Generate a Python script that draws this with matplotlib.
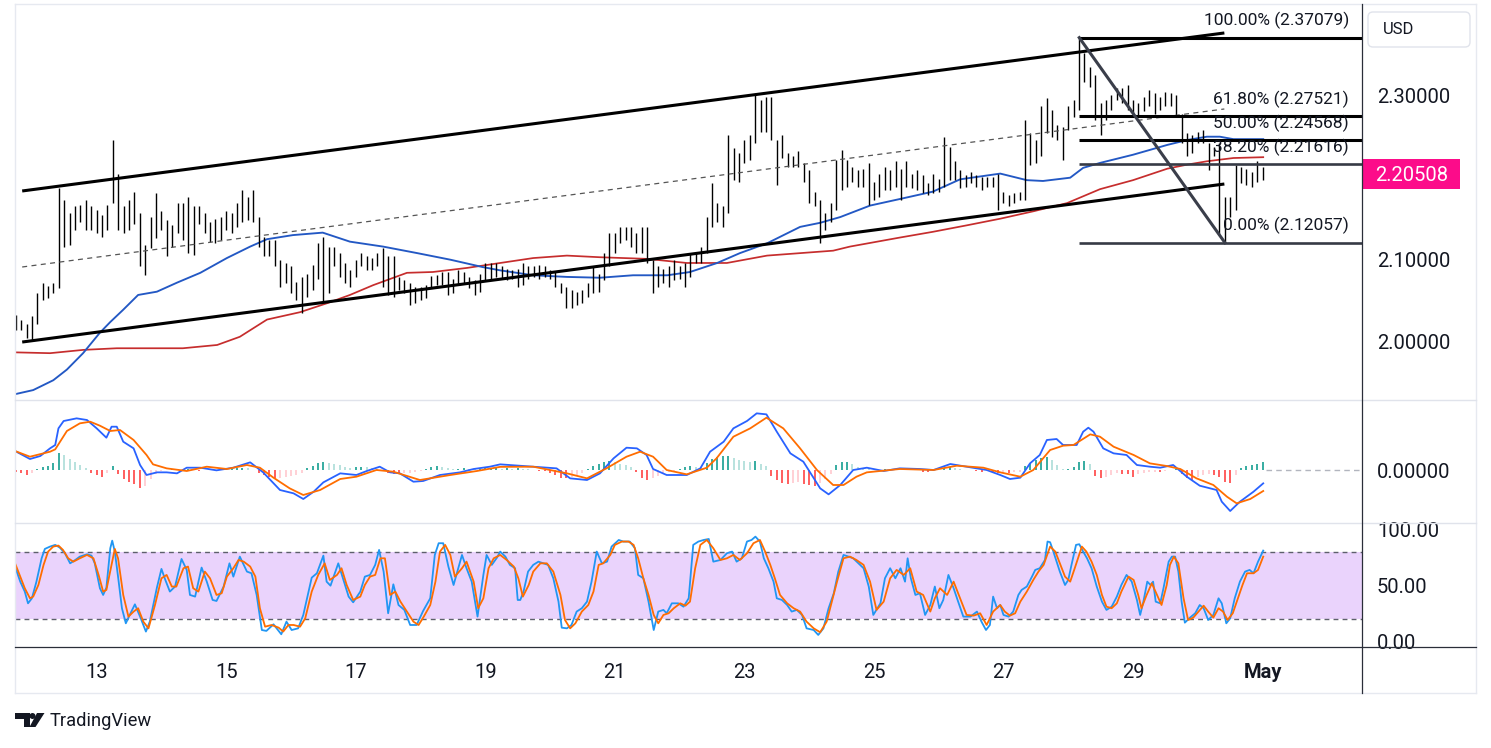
import numpy as np
import matplotlib
matplotlib.use("Agg")
import matplotlib.pyplot as plt
from matplotlib.patches import Rectangle, FancyBboxPatch, Polygon, Circle
from matplotlib.lines import Line2D
from matplotlib.transforms import blended_transform_factory as blend

# ---------------- data (time in days of April; 31 = 1 May) ----------------
bar_start = 11.75          # first 2-hour bar
bar_step = 1.0 / 12.0      # 2 hours

bar_high = [
    2.033, 2.026, 2.022, 2.031, 2.059, 2.071, 2.068, 2.072, 2.187, 2.173,
    2.157, 2.165, 2.167, 2.173, 2.165, 2.161, 2.154, 2.167, 2.246, 2.205,
    2.165, 2.173, 2.183, 2.157, 2.118, 2.152, 2.181, 2.159, 2.148, 2.142,
    2.169, 2.169, 2.177, 2.165, 2.165, 2.157, 2.146, 2.150, 2.152, 2.159,
    2.157, 2.169, 2.185, 2.177, 2.185, 2.152, 2.128, 2.124, 2.124, 2.100,
    2.096, 2.092, 2.073, 2.079, 2.083, 2.094, 2.120, 2.128, 2.116, 2.116,
    2.108, 2.096, 2.087, 2.100, 2.108, 2.104, 2.102, 2.108, 2.114, 2.104,
    2.104, 2.079, 2.075, 2.071, 2.067, 2.067, 2.069, 2.080, 2.081, 2.085,
    2.085, 2.077, 2.087, 2.085, 2.079, 2.075, 2.083, 2.096, 2.096, 2.096,
    2.092, 2.089, 2.088, 2.089, 2.096, 2.092, 2.092, 2.094, 2.092, 2.087,
    2.085, 2.071, 2.067, 2.063, 2.061, 2.063, 2.071, 2.092, 2.083, 2.108,
    2.132, 2.132, 2.140, 2.140, 2.140, 2.132, 2.140, 2.140, 2.100, 2.092,
    2.089, 2.092, 2.100, 2.092, 2.096, 2.108, 2.108, 2.116, 2.152, 2.193,
    2.169, 2.165, 2.252, 2.236, 2.230, 2.246, 2.252, 2.301, 2.295, 2.299,
    2.299, 2.246, 2.252, 2.230, 2.226, 2.232, 2.218, 2.209, 2.183, 2.173,
    2.157, 2.169, 2.222, 2.234, 2.222, 2.213, 2.209, 2.211, 2.218, 2.195,
    2.205, 2.213, 2.209, 2.220, 2.211, 2.220, 2.205, 2.209, 2.203, 2.193,
    2.205, 2.199, 2.250, 2.238, 2.220, 2.209, 2.203, 2.207, 2.203, 2.201,
    2.201, 2.201, 2.205, 2.183, 2.179, 2.181, 2.183, 2.270, 2.254, 2.246,
    2.287, 2.297, 2.283, 2.264, 2.262, 2.287, 2.295, 2.371, 2.352, 2.335,
    2.325, 2.291, 2.295, 2.301, 2.309, 2.309, 2.313, 2.295, 2.291, 2.299,
    2.307, 2.303, 2.299, 2.305, 2.303, 2.301, 2.278, 2.254, 2.252, 2.256,
    2.258, 2.242, 2.238, 2.242, 2.177, 2.177, 2.215, 2.213, 2.211, 2.207,
    2.220, 2.213,
]
bar_low = [
    2.014, 2.014, 2.004, 2.001, 2.022, 2.051, 2.053, 2.059, 2.066, 2.116,
    2.118, 2.136, 2.146, 2.136, 2.136, 2.132, 2.128, 2.136, 2.169, 2.136,
    2.132, 2.136, 2.144, 2.092, 2.081, 2.114, 2.126, 2.136, 2.104, 2.116,
    2.132, 2.124, 2.108, 2.106, 2.144, 2.132, 2.122, 2.120, 2.124, 2.136,
    2.132, 2.140, 2.146, 2.148, 2.146, 2.116, 2.104, 2.104, 2.092, 2.067,
    2.071, 2.059, 2.051, 2.035, 2.055, 2.063, 2.077, 2.049, 2.059, 2.092,
    2.079, 2.071, 2.067, 2.079, 2.092, 2.087, 2.087, 2.092, 2.067, 2.057,
    2.055, 2.063, 2.059, 2.045, 2.047, 2.051, 2.053, 2.067, 2.069, 2.069,
    2.057, 2.059, 2.069, 2.071, 2.065, 2.057, 2.061, 2.075, 2.075, 2.079,
    2.077, 2.075, 2.077, 2.067, 2.069, 2.077, 2.079, 2.077, 2.079, 2.077,
    2.067, 2.059, 2.041, 2.041, 2.045, 2.047, 2.055, 2.059, 2.061, 2.075,
    2.092, 2.108, 2.120, 2.124, 2.116, 2.108, 2.108, 2.096, 2.059, 2.067,
    2.071, 2.067, 2.075, 2.077, 2.067, 2.079, 2.096, 2.096, 2.108, 2.140,
    2.146, 2.140, 2.157, 2.197, 2.195, 2.218, 2.222, 2.242, 2.256, 2.256,
    2.246, 2.191, 2.224, 2.213, 2.213, 2.213, 2.195, 2.169, 2.165, 2.120,
    2.136, 2.146, 2.161, 2.185, 2.189, 2.195, 2.189, 2.189, 2.167, 2.173,
    2.177, 2.185, 2.185, 2.189, 2.173, 2.189, 2.187, 2.185, 2.181, 2.179,
    2.181, 2.183, 2.189, 2.197, 2.197, 2.187, 2.189, 2.193, 2.189, 2.185,
    2.189, 2.189, 2.161, 2.169, 2.165, 2.169, 2.173, 2.173, 2.215, 2.218,
    2.226, 2.254, 2.250, 2.246, 2.222, 2.258, 2.274, 2.283, 2.317, 2.311,
    2.270, 2.252, 2.270, 2.283, 2.295, 2.291, 2.283, 2.278, 2.274, 2.281,
    2.287, 2.278, 2.283, 2.287, 2.287, 2.276, 2.242, 2.226, 2.230, 2.242,
    2.242, 2.209, 2.226, 2.130, 2.1206, 2.152, 2.161, 2.193, 2.191, 2.189,
    2.195, 2.197,
]
last_close = 2.20508

ma_fast_t = [11.74, 12.02, 12.33, 12.54, 12.79, 13.05, 13.21, 13.41, 13.64, 13.93,
             14.24, 14.60, 15.01, 15.37, 15.63, 16.03, 16.49, 16.91, 17.42, 17.95,
             18.46, 18.96, 19.23, 19.74, 20.26, 20.77, 21.28, 21.81, 22.16, 22.58,
             22.93, 23.35, 23.86, 24.17, 24.48, 24.94, 25.40, 25.91, 26.33, 26.95,
             27.36, 27.61, 28.03, 28.23, 28.49, 29.00, 29.53, 29.84, 30.14, 30.34,
             30.55, 31.01]
ma_fast = [1.936, 1.941, 1.953, 1.966, 1.986, 2.011, 2.024, 2.039, 2.057, 2.061,
           2.072, 2.084, 2.102, 2.116, 2.125, 2.130, 2.133, 2.122, 2.116, 2.108,
           2.100, 2.091, 2.087, 2.081, 2.079, 2.078, 2.081, 2.081, 2.085, 2.096,
           2.108, 2.120, 2.140, 2.145, 2.152, 2.166, 2.174, 2.183, 2.198, 2.205,
           2.197, 2.196, 2.200, 2.212, 2.218, 2.228, 2.240, 2.246, 2.250, 2.250,
           2.247, 2.247]
ma_slow_t = [11.74, 12.28, 12.79, 13.31, 13.82, 14.33, 14.86, 15.21, 15.63, 16.14,
             16.56, 16.91, 17.27, 17.79, 18.19, 18.72, 19.23, 19.74, 20.26, 20.77,
             21.50, 22.11, 22.73, 23.35, 23.86, 24.37, 24.63, 25.40, 25.91, 26.44,
             26.95, 27.46, 27.98, 28.49, 29.00, 29.53, 29.84, 30.14, 30.55, 31.01]
ma_slow = [1.987, 1.986, 1.990, 1.992, 1.992, 1.992, 1.996, 2.006, 2.027, 2.036,
           2.047, 2.057, 2.069, 2.084, 2.085, 2.090, 2.096, 2.102, 2.105, 2.103,
           2.101, 2.096, 2.096, 2.105, 2.108, 2.111, 2.116, 2.127, 2.134, 2.142,
           2.150, 2.159, 2.169, 2.186, 2.197, 2.211, 2.216, 2.220, 2.224, 2.225]

# channel drawing (two anchor times) and fibonacci retracement
channel_t = [11.85, 30.41]
channel_upper = [2.1838, 2.3765]
channel_mid = [2.0911, 2.2838]
channel_lower = [1.9996, 2.1923]
fib_start_t = 28.17
fib_ratio = [1.0, 0.618, 0.5, 0.382, 0.0]
fib_price = [2.37079, 2.27521, 2.24568, 2.21616, 2.12057]
swing_t = [28.17, 30.42]
swing_p = [2.37079, 2.12057]

# MACD (units of 1e-3)
macd_t = [11.74, 11.97, 12.13, 12.28, 12.36, 12.41, 12.49, 12.69, 12.85, 13.00,
          13.15, 13.23, 13.31, 13.41, 13.57, 13.67, 13.77, 13.93, 14.08, 14.24,
          14.39, 14.60, 14.85, 15.11, 15.37, 15.57, 15.83, 16.04, 16.19, 16.35,
          16.50, 16.76, 17.01, 17.17, 17.37, 17.53, 17.68, 17.89, 18.04, 18.30,
          18.61, 18.82, 19.07,
          19.23, 19.74, 20.10, 20.31, 20.57, 20.77, 20.98, 21.18, 21.34, 21.49,
          21.59, 21.80, 22.11, 22.32, 22.47, 22.68, 22.83, 23.04, 23.19, 23.34,
          23.50, 23.71, 23.91, 24.17, 24.30, 24.48, 24.68, 24.89, 25.15, 25.40,
          25.71, 25.92, 26.18, 26.43, 26.74,
          26.95, 27.10, 27.26, 27.41, 27.56, 27.67, 27.82, 27.92, 28.13, 28.23,
          28.31, 28.39, 28.54, 28.70, 28.90, 29.06, 29.26, 29.42, 29.62, 29.83,
          30.03, 30.29, 30.37, 30.50, 30.65, 30.86, 31.01]
macd_line = [3.87, 2.27, 2.87, 4.40, 5.07, 8.40, 9.87, 10.40, 10.07, 8.40,
             6.53, 8.73, 8.73, 5.73, 4.40, 1.07, -0.93, -0.40, -0.40, -0.60,
             0.53, 0.53, 0.00, 0.53, 1.60, -0.40, -3.93, -4.60, -5.73, -4.27,
             -2.40, -0.60, -0.93, -0.13, 0.73, -0.40, -0.60, -2.27, -2.13, -0.93,
             -0.40, 0.27, 0.73,
             1.20, 0.73, 0.40, -1.60, -1.93, -0.60, 2.40, 4.53, 4.40, 3.07,
             0.27, -0.93, -0.93, 0.40, 3.73, 5.73, 8.40, 9.87, 11.40, 11.20,
             7.73, 3.40, 1.73, -3.60, -4.80, -2.93, 0.07, 0.53, -0.13, 0.40,
             0.27, 0.07, 1.27, 0.73, 0.07,
             -0.93, -1.73, -1.47, 1.40, 3.07, 6.07, 6.27, 5.07, 5.07, 7.73,
             8.53, 7.73, 4.40, 3.40, 3.07, 1.07, 0.73, 0.53, 1.07, -1.27,
             -3.07, -3.93, -6.27, -8.13, -6.27, -4.27, -2.60]
signal_t = [11.74, 11.97, 12.28, 12.36, 12.54, 12.74, 12.90, 13.05, 13.21, 13.36,
            13.57, 13.77, 13.87, 14.08, 14.39, 14.70, 15.01, 15.32, 15.52, 15.73,
            15.98, 16.19, 16.45, 16.76, 17.01, 17.32, 17.58, 17.99, 18.46, 18.87,
            19.23, 19.74, 20.26, 20.57, 20.87, 21.18, 21.39, 21.59, 21.80, 22.11,
            22.42, 22.57, 22.83, 23.09, 23.34, 23.60, 23.86, 24.12, 24.37, 24.53,
            24.73, 24.89, 25.40, 25.92, 26.28, 26.69,
            26.95, 27.26, 27.46, 27.72, 27.92, 28.08, 28.34, 28.49, 28.70, 29.01,
            29.26, 29.52, 29.73, 29.98, 30.24, 30.45, 30.60, 30.81, 31.01]
signal_line = [3.87, 2.73, 3.73, 4.20, 7.87, 9.40, 9.73, 8.93, 7.87, 8.07,
               6.07, 3.07, 1.20, 0.40, -0.13, 0.73, 0.27, 1.07, 0.53, -1.47,
               -3.60, -4.93, -3.93, -1.73, -1.27, 0.07, -0.27, -1.93, -0.93, -0.13,
               0.70, 0.73, -0.60, -1.60, 0.40, 2.73, 3.73, 2.73, 0.07, -0.80,
               0.53, 2.40, 6.73, 8.40, 10.53, 8.40, 4.40, 0.07, -2.93, -2.93,
               -1.27, -0.40, 0.27, 0.07, 0.93, 0.53,
               -0.40, -1.27, 0.07, 4.07, 4.93, 5.07, 7.20, 6.73, 4.73, 3.07,
               1.40, 0.87, 0.27, -1.60, -2.93, -5.27, -6.60, -5.73, -4.13]
macd_hist = [
    -0.3, -0.6, -0.9, -0.5, 0.3, 0.6, 0.9, 1.5, 3.4, 3.0,
    2.2, 1.6, 1.0, 0.4, -0.6, -1.0, -1.3, -0.5, 0.9, -0.8,
    -1.8, -2.4, -2.8, -3.6, -3.2, -1.8, -0.8, -0.2, 0.1, 0.2,
    0.2, 0.1, 0.2, 0.1, -0.1, 0.1, 0.2, 0.0, 0.1, 0.2,
    0.3, 0.4, 0.5, 0.4, 0.1, -0.5, -0.9, -1.3, -1.6, -1.5,
    -1.4, -1.2, -1.0, -0.5, 0.4, 0.9, 1.4, 1.6, 1.5, 1.3,
    1.0, 0.7, 0.4, 0.6, 0.7, 0.6, 0.5, 0.3, -0.2, -0.5,
    -0.7, -0.8, -0.6, -0.5, -0.3, -0.1, 0.3, 0.6, 0.8, 0.7,
    0.4, 0.3, 0.3, 0.4, 0.3, 0.2, 0.3, 0.4, 0.5, 0.5,
    0.3, 0.4, 0.3, 0.4, 0.3, 0.2, 0.1, -0.1, -0.2, -0.5,
    -1.0, -1.5, -1.6, -1.4, -1.0, -0.6, 0.3, 0.9, 1.2, 1.7,
    1.8, 1.6, 1.3, 1.0, 0.6, -0.4, -1.5, -1.9, -1.6, -1.2,
    -0.8, -0.4, -0.2, 0.2, 0.6, 0.8, 0.7, 0.6, 1.4, 2.2,
    2.6, 2.8, 2.9, 2.4, 2.0, 1.8, 1.7, 1.9, 1.3, 0.9,
    -1.2, -2.0, -2.6, -2.8, -2.6, -2.4, -2.8, -3.0, -3.2, -2.6,
    -1.8, -0.8, 1.0, 1.6, 1.7, 1.3, 0.6, 0.4, 0.2, 0.1,
    0.1, 0.2, 0.2, 0.1, 0.0, 0.1, 0.1, 0.0, -0.3, -0.4,
    -0.2, 0.0, 0.5, 0.6, 0.4, 0.2, 0.1, 0.1, -0.2, -0.3,
    -0.2, -0.3, -0.6, -0.4, -0.5, -0.4, -0.3, 0.8, 1.5, 2.0,
    2.4, 2.7, 2.0, 1.0, 0.2, 0.3, 0.6, 1.6, 1.9, 1.2,
    -1.2, -1.6, -1.4, -0.9, -0.6, -0.7, -0.8, -1.3, -0.8, -0.5,
    -0.4, -0.3, -0.4, -0.2, 0.1, 0.3, -0.7, -1.6, -1.9, -1.4,
    -1.0, -0.8, -0.9, -1.4, -2.3, -2.5, -0.9, 0.5, 0.8, 1.0,
    1.3, 1.6,
]

# Stochastic %K and %D
stoch_k_t = [
    11.74, 11.82, 11.89, 11.94, 12.00, 12.07, 12.15, 12.20, 12.28, 12.36,
    12.43, 12.51, 12.59, 12.67, 12.74, 12.85, 12.92, 12.97, 13.05, 13.10,
    13.15, 13.21, 13.24, 13.28, 13.33, 13.39, 13.45, 13.51, 13.59, 13.67,
    13.76, 13.82, 13.93, 14.00, 14.06, 14.13, 14.21, 14.31, 14.39, 14.44,
    14.52, 14.62, 14.70, 14.79, 14.85, 14.96, 15.05, 15.11, 15.21, 15.32,
    15.39, 15.47, 15.55, 15.62, 15.73, 15.85, 15.93, 16.01, 16.11, 16.19,
    16.32, 16.40, 16.50, 16.55, 16.61, 16.73, 16.81, 16.89, 16.96, 17.07,
    17.14, 17.22, 17.30, 17.36, 17.43, 17.50, 17.58, 17.66, 17.75, 17.84,
    17.94, 18.04, 18.15, 18.22, 18.28, 18.35, 18.43, 18.51, 18.64, 18.71,
    18.79, 18.88, 18.97, 19.02, 19.10, 19.18,
    19.23, 19.31, 19.38, 19.46, 19.50, 19.54, 19.59, 19.66, 19.74, 19.82,
    19.90, 19.97, 20.05, 20.13, 20.18, 20.26, 20.33, 20.41, 20.49, 20.57,
    20.64, 20.72, 20.80, 20.88, 20.95, 21.06, 21.13, 21.23, 21.31, 21.36,
    21.44, 21.52, 21.60, 21.67, 21.75, 21.80, 21.88, 21.98, 22.06, 22.14,
    22.21, 22.29, 22.37, 22.45, 22.52, 22.63, 22.73, 22.81, 22.88, 22.96,
    23.04, 23.11, 23.17, 23.24, 23.30, 23.37, 23.45, 23.50, 23.58, 23.66,
    23.73, 23.81, 23.89, 23.96, 24.07, 24.14, 24.22, 24.30, 24.38, 24.45,
    24.53, 24.61, 24.68, 24.76, 24.84, 24.92, 24.99, 25.10, 25.17, 25.25,
    25.33, 25.41, 25.48, 25.52, 25.57, 25.64, 25.71, 25.79, 25.87, 25.94,
    26.01, 26.07, 26.15, 26.23, 26.30, 26.38, 26.49, 26.59, 26.66, 26.73,
    26.79, 26.84, 26.90,
    26.95, 27.00, 27.08, 27.15, 27.23, 27.28, 27.36, 27.44, 27.49, 27.56,
    27.64, 27.68, 27.72, 27.77, 27.82, 27.87, 27.95, 28.00, 28.05, 28.12,
    28.17, 28.23, 28.29, 28.36, 28.44, 28.52, 28.59, 28.67, 28.75, 28.82,
    28.90, 28.98, 29.06, 29.11, 29.16, 29.22, 29.27, 29.31, 29.35, 29.42,
    29.47, 29.55, 29.60, 29.65, 29.70, 29.75, 29.80, 29.88, 29.96, 30.03,
    30.09, 30.16, 30.24, 30.32, 30.37, 30.44, 30.50, 30.57, 30.65, 30.73,
    30.80, 30.86, 30.93, 31.01]
stoch_k = [
    67.2, 53.7, 44.8, 34.3, 38.8, 53.7, 74.6, 83.0, 85.1, 86.6,
    84.2, 79.1, 70.1, 73.1, 76.1, 78.2, 77.0, 70.1, 47.8, 41.8,
    48.4, 83.6, 90.4, 80.6, 58.2, 29.9, 16.4, 23.9, 33.4, 22.4,
    9.0, 17.9, 48.4, 65.1, 55.2, 44.8, 49.3, 74.0, 64.2, 41.8,
    40.3, 66.3, 53.7, 37.3, 36.4, 49.3, 70.1, 58.2, 76.1, 62.7,
    61.2, 41.8, 10.4, 9.6, 15.5, 6.6, 17.9, 10.4, 11.9, 23.9,
    57.3, 61.2, 77.0, 53.7, 50.1, 70.1, 55.2, 40.3, 35.2, 44.8,
    58.2, 59.7, 68.7, 82.1, 62.7, 25.4, 51.3, 32.8, 28.4, 14.9,
    14.9, 27.5, 38.8, 77.6, 88.1, 88.1, 67.2, 50.7, 77.6, 65.7,
    53.7, 22.4, 59.7, 77.6, 68.7, 75.2,
    80.6, 76.1, 68.7, 65.7, 37.3, 37.3, 44.8, 62.7, 68.7, 71.6,
    70.1, 68.7, 56.7, 35.8, 12.5, 11.9, 14.9, 26.9, 29.9, 35.8,
    53.7, 80.6, 70.1, 71.6, 85.1, 91.0, 89.6, 89.6, 83.6, 59.7,
    56.7, 35.8, 10.4, 26.9, 28.4, 25.4, 34.3, 34.3, 31.3, 38.8,
    86.6, 89.6, 91.0, 91.9, 71.6, 73.1, 79.1, 80.6, 71.6, 74.6,
    89.6, 91.0, 94.0, 89.6, 74.6, 65.7, 53.7, 38.8, 37.3, 32.8,
    26.9, 28.4, 23.9, 11.9, 10.4, 6.0, 11.9, 29.9, 43.3, 62.7,
    77.6, 76.1, 74.6, 70.1, 65.7, 49.3, 23.9, 34.3, 56.7, 65.7,
    56.7, 65.7, 53.7, 74.6, 56.7, 41.8, 43.3, 23.9, 32.8, 49.3,
    29.9, 37.3, 59.7, 47.8, 35.8, 22.4, 22.4, 26.9, 17.9, 10.4,
    14.9, 40.3, 29.9,
    32.8, 23.9, 22.4, 26.9, 41.8, 46.3, 49.3, 58.2, 64.2, 65.7,
    73.1, 89.6, 89.0, 80.6, 71.6, 62.7, 50.7, 55.2, 68.7, 86.6,
    87.2, 80.6, 74.6, 65.7, 49.3, 35.8, 28.4, 31.3, 40.3, 50.7,
    59.7, 53.7, 37.3, 23.9, 35.8, 53.7, 50.7, 53.7, 35.8, 34.3,
    47.8, 71.6, 76.1, 76.1, 62.7, 35.8, 17.0, 21.5, 25.4, 32.8,
    29.9, 19.4, 23.9, 38.8, 34.3, 16.4, 20.9, 38.8, 53.7, 62.7,
    64.2, 61.2, 71.6, 81.5]
stoch_d_t = [
    11.74, 11.82, 11.89, 11.97, 12.02, 12.10, 12.18, 12.25, 12.33, 12.41,
    12.48, 12.56, 12.64, 12.74, 12.85, 12.95, 13.03, 13.10, 13.15, 13.23,
    13.28, 13.33, 13.41, 13.49, 13.57, 13.64, 13.72, 13.80, 13.90, 14.00,
    14.08, 14.16, 14.23, 14.34, 14.41, 14.49, 14.57, 14.67, 14.75, 14.85,
    14.93, 15.01, 15.11, 15.19, 15.27, 15.37, 15.45, 15.52, 15.60, 15.70,
    15.81, 15.88, 15.96, 16.04, 16.14, 16.22, 16.32, 16.42, 16.52, 16.60,
    16.71, 16.78, 16.86, 16.96, 17.07, 17.14, 17.22, 17.30, 17.38, 17.45,
    17.53, 17.61, 17.69, 17.79, 17.89, 17.97, 18.05, 18.15, 18.23, 18.30,
    18.38, 18.46, 18.53, 18.64, 18.71, 18.82, 18.89, 18.97, 19.05, 19.13,
    19.23, 19.33, 19.44, 19.51, 19.58, 19.67, 19.74, 19.85, 19.95, 20.05,
    20.16, 20.23, 20.31, 20.39, 20.49, 20.59, 20.67, 20.75, 20.82, 20.93,
    21.00, 21.11, 21.21, 21.29, 21.36, 21.44, 21.52, 21.60, 21.67, 21.75,
    21.83, 21.91, 22.01, 22.09, 22.16, 22.24, 22.32, 22.42, 22.52, 22.63,
    22.73, 22.83, 22.93, 23.04, 23.14, 23.24, 23.32, 23.40, 23.47, 23.55,
    23.66, 23.76, 23.86, 23.96, 24.07, 24.17, 24.27, 24.35, 24.43, 24.53,
    24.63, 24.73, 24.84, 24.94, 25.04, 25.15, 25.25, 25.35, 25.46, 25.56,
    25.66, 25.76, 25.87, 25.94, 26.02, 26.13, 26.23, 26.33, 26.43, 26.54,
    26.64, 26.74, 26.84,
    26.95, 27.02, 27.10, 27.18, 27.26, 27.36, 27.46, 27.54, 27.62, 27.72,
    27.80, 27.87, 27.95, 28.03, 28.10, 28.21, 28.28, 28.36, 28.44, 28.52,
    28.59, 28.67, 28.75, 28.82, 28.93, 29.01, 29.08, 29.13, 29.21, 29.29,
    29.37, 29.44, 29.52, 29.57, 29.63, 29.70, 29.78, 29.85, 29.93, 30.01,
    30.09, 30.16, 30.24, 30.32, 30.39, 30.46, 30.54, 30.61, 30.69, 30.76,
    30.86, 30.93, 31.01]
stoch_d = [
    70.1, 58.2, 47.8, 38.8, 40.3, 50.7, 68.7, 80.6, 85.1, 86.0,
    82.1, 74.6, 71.6, 74.6, 77.6, 74.6, 59.7, 44.8, 46.3, 68.7,
    83.0, 74.6, 41.8, 22.4, 26.9, 29.9, 17.9, 11.9, 32.8, 56.7,
    59.7, 49.3, 49.3, 65.7, 67.2, 47.8, 44.8, 62.7, 56.7, 41.8,
    43.3, 58.2, 65.7, 73.1, 71.6, 67.2, 58.2, 29.9, 13.4, 14.9,
    12.5, 9.0, 14.9, 14.9, 13.4, 20.9, 44.8, 59.7, 70.1, 55.2,
    59.7, 65.7, 50.7, 37.3, 40.3, 50.7, 58.2, 59.7, 74.6, 74.6,
    41.8, 44.8, 35.8, 26.9, 17.9, 14.9, 22.4, 32.8, 53.7, 80.6,
    86.6, 77.6, 58.2, 65.7, 71.6, 53.7, 29.9, 38.8, 65.7, 74.6,
    77.6, 73.1, 67.2, 56.7, 40.3, 50.7, 62.7, 70.1, 70.1, 62.7,
    41.8, 19.4, 11.9, 16.4, 26.9, 32.8, 44.8, 68.7, 70.1, 77.6,
    86.6, 89.6, 89.6, 86.6, 74.6, 56.7, 41.8, 23.9, 16.4, 23.9,
    25.4, 29.9, 34.3, 32.2, 35.8, 65.7, 86.6, 91.0, 83.6, 73.1,
    74.6, 77.6, 73.1, 79.1, 88.1, 91.0, 80.6, 68.7, 56.7, 41.8,
    34.3, 29.9, 26.9, 17.9, 11.9, 8.4, 17.9, 35.8, 53.7, 74.6,
    76.1, 73.1, 68.7, 53.7, 28.4, 35.8, 56.7, 64.2, 59.7, 65.7,
    44.8, 41.8, 26.9, 38.8, 47.8, 41.8, 53.7, 38.8, 23.9, 23.3,
    25.4, 14.9, 26.9,
    32.8, 26.9, 23.3, 25.4, 35.8, 44.8, 55.2, 62.7, 68.7, 85.1,
    80.6, 70.1, 58.2, 53.7, 65.7, 85.1, 80.6, 71.6, 59.7, 41.8,
    31.3, 29.9, 34.3, 44.8, 58.2, 55.2, 41.8, 29.9, 41.8, 52.2,
    41.8, 32.8, 50.7, 68.7, 76.1, 70.1, 38.8, 19.4, 21.5, 26.9,
    32.2, 26.9, 21.5, 29.9, 26.9, 19.4, 25.4, 37.3, 50.7, 61.2,
    61.2, 64.2, 76.1]

price_ticks = [2.0, 2.1, 2.3]
stoch_ticks = [0, 50, 100]
stoch_bands = [20, 80]
xtick_days = [13, 15, 17, 19, 21, 23, 25, 27, 29, 31]
xtick_labels = ["13", "15", "17", "19", "21", "23", "25", "27", "29", "May"]

# ---------------- figure ----------------
plt.rcParams['font.family'] = ['Roboto', 'DejaVu Sans']
TXT = '#131722'
W, H = 1491, 748
fig = plt.figure(figsize=(W / 100, H / 100), dpi=100)
fig.patch.set_facecolor('white')
PX = fig.dpi_scale_trans  # inches; 1 px = 0.01 in


def P(x, y):
    return (x / 100.0, (H - y) / 100.0)


def fig_axes(left, top, right, bottom):
    return fig.add_axes([left / W, 1 - bottom / H, (right - left) / W, (bottom - top) / H])


ax_p = fig_axes(15, 5, 1362, 400)
ax_m = fig_axes(15, 400, 1362, 523)
ax_s = fig_axes(15, 523, 1362, 647)
XMIN, XMAX = 11.739, 32.535
for a in (ax_p, ax_m, ax_s):
    a.set_xlim(XMIN, XMAX)
    a.set_axis_off()
ax_p.set_ylim(1.9289, 2.4106)
ax_m.set_ylim(-10.53, 14.07)
ax_s.set_ylim(-4.8, 106.2)

bar_t = bar_start + np.arange(len(bar_high)) * bar_step

# ---- price panel ----
ax_p.plot(ma_slow_t, ma_slow, color='#C62D2D', lw=1.25, zorder=2)
ax_p.plot(ma_fast_t, ma_fast, color='#2358C4', lw=1.35, zorder=2)
ax_p.vlines(bar_t, bar_low, bar_high, colors='black', linewidth=1.0, zorder=3)
ax_p.plot(channel_t, channel_upper, color='black', lw=2.2, zorder=4, solid_capstyle='butt')
ax_p.plot(channel_t, channel_lower, color='black', lw=2.2, zorder=4, solid_capstyle='butt')
ax_p.plot(channel_t, channel_mid, color='#555555', lw=0.9, dashes=(4, 3.5), zorder=4)
for r, p in zip(fib_ratio, fib_price):
    thick = r in (1.0, 0.618, 0.5)
    ax_p.plot([fib_start_t, XMAX], [p, p], color='black' if thick else '#363A45',
              lw=2.2 if thick else 1.9, zorder=5, solid_capstyle='butt')
    ax_p.annotate(f"{r * 100:.2f}% ({p:.5f})", xy=(1349 / 100, p),
                  xycoords=blend(PX, ax_p.transData), xytext=(0, 8.9),
                  textcoords='offset points', ha='right', va='baseline',
                  fontsize=12.5, color=TXT, zorder=6, annotation_clip=False)
ax_p.plot(swing_t, swing_p, color='#3A3E4A', lw=2.2, zorder=5)

# ---- MACD panel ----
hist = np.array(macd_hist)
cols = []
prev = 0.0
for h in hist:
    if h >= 0:
        cols.append('#26A69A' if h >= prev else '#B2DFDB')
    else:
        cols.append('#FFCDD2' if h > prev else '#FF5252')
    prev = h
ax_m.vlines(bar_t, 0, hist, colors=cols, linewidth=1.3, zorder=2)
ax_m.plot([bar_t[-1] + 0.05, XMAX], [0, 0], color='#B2B5BE', lw=1.0, dashes=(4, 3))
ax_m.plot(macd_t, macd_line, color='#2962FF', lw=1.3, zorder=3)
ax_m.plot(signal_t, signal_line, color='#FF6D00', lw=1.3, zorder=4)

# ---- Stochastic panel ----
ax_s.axhspan(stoch_bands[0], stoch_bands[1], color='#EAD3FC', lw=0, zorder=1)
for b in stoch_bands:
    ax_s.axhline(b, color='#5D606B', lw=1.0, dashes=(3.5, 3), zorder=2)
ax_s.plot(stoch_k_t, stoch_k, color='#2196F3', lw=1.3, zorder=3)
ax_s.plot(stoch_d_t, stoch_d, color='#FF6D00', lw=1.3, zorder=4)

# ---- frame lines ----
def line_px(x0, y0, x1, y1, color, lw):
    fig.add_artist(Line2D([x0 / 100, x1 / 100], [(H - y0) / 100, (H - y1) / 100],
                          transform=PX, color=color, lw=lw, zorder=10))

line_px(15, 3.5, 1476, 3.5, '#E6E9F0', 1.0)
line_px(15, 3.5, 15, 693, '#E6E9F0', 1.0)
line_px(1476, 3.5, 1476, 693, '#E6E9F0', 1.0)
line_px(15, 693, 1476, 693, '#E6E9F0', 1.0)
line_px(15, 400, 1476, 400, '#E0E3EB', 1.0)
line_px(15, 523, 1476, 523, '#E0E3EB', 1.0)
line_px(15, 647, 1476, 647, '#2A2E39', 0.9)
line_px(1362, 3.5, 1362, 693, '#2A2E39', 0.9)

# ---- right scale labels ----
FS = 14.5
CAP = 0.711 * FS


def scale_label(axis, val, text):
    axis.annotate(text, xy=(1377 / 100, val), xycoords=blend(PX, axis.transData),
                  xytext=(0, -CAP / 2), textcoords='offset points', ha='left',
                  va='baseline', fontsize=FS, color=TXT, annotation_clip=False)


for v in price_ticks:
    scale_label(ax_p, v, f"{v:.5f}")
scale_label(ax_m, 0.0, "0.00000")
for v in stoch_ticks:
    scale_label(ax_s, v, f"{v:.2f}")

# last price label
h_data = 30 * (2.4106 - 1.9289) / 395.0
ax_p.add_patch(Rectangle((1363 / 100, last_close - h_data / 2), 97 / 100, h_data,
                         transform=blend(PX, ax_p.transData), facecolor='#FC0C8A',
                         edgecolor='none', clip_on=False, zorder=8))
ax_p.annotate(f"{last_close:.5f}", xy=(1412 / 100, last_close), xycoords=blend(PX, ax_p.transData),
              xytext=(0, -CAP / 2), textcoords='offset points', ha='center', va='baseline',
              fontsize=FS, color='white', zorder=9, annotation_clip=False)

# USD box
fig.add_artist(FancyBboxPatch(P(1368, 47), 1.02, 0.35, transform=PX,
                              boxstyle='round,pad=0,rounding_size=0.05',
                              facecolor='white', edgecolor='#E0E3EB', lw=1.0, zorder=11))
fig.text(*P(1383, 34), "USD", transform=PX, fontsize=12, color=TXT, ha='left',
         va='baseline', zorder=12)

# x labels
for d, lbl in zip(xtick_days, xtick_labels):
    ax_s.annotate(lbl, xy=(d, (H - 671) / 100), xycoords=blend(ax_s.transData, PX),
                  xytext=(0, -CAP / 2), textcoords='offset points', ha='center',
                  va='baseline', fontsize=FS, color=TXT,
                  fontweight='bold' if lbl == 'May' else 'normal', annotation_clip=False)

# TradingView logo
fig.add_artist(Polygon([P(15, 713), P(30, 713), P(30, 727), P(23.5, 727), P(23.5, 719), P(15, 719)],
                       closed=True, transform=PX, facecolor=TXT, edgecolor='none'))
fig.add_artist(Circle(P(32.5, 716), 0.03, transform=PX, facecolor=TXT, edgecolor='none'))
fig.add_artist(Polygon([P(37, 713), P(44.5, 713), P(35.5, 727), P(29.5, 727)],
                       closed=True, transform=PX, facecolor=TXT, edgecolor='none'))
fig.text(*P(50, 726.5), "TradingView", transform=PX, fontsize=13.2, color=TXT,
         ha='left', va='baseline')

fig.savefig('out.png', dpi=100, facecolor='white')
